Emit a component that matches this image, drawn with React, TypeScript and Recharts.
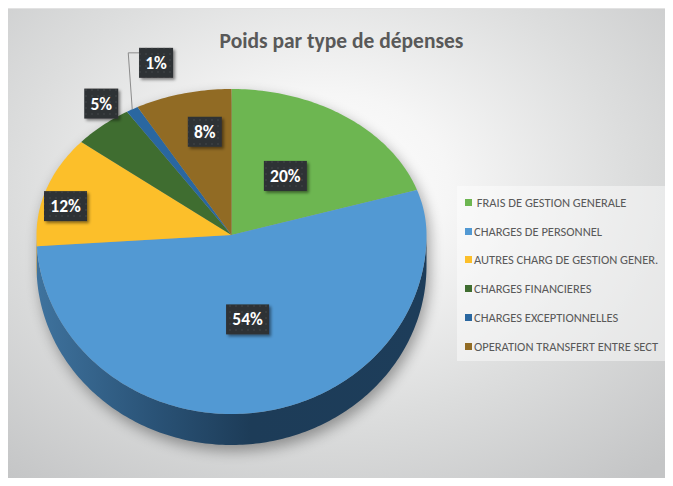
import React from 'react';
import { PieChart, Pie, Cell, Legend } from 'recharts';

const categories = [
  ' FRAIS DE GESTION GENERALE',
  'CHARGES DE PERSONNEL',
  'AUTRES CHARG DE GESTION GENER.',
  'CHARGES FINANCIERES',
  'CHARGES EXCEPTIONNELLES',
  'OPERATION TRANSFERT ENTRE SECT',
];
const shares = [20, 54, 12, 5, 1, 8];

const colors = ['#6db651', '#5299d3', '#fcbf2a', '#3f6d30', '#2a67a0', '#916b24'];
const sideColors = ['#4a7d37', 'url(#blueSide)', '#b98a1c', '#2b4b21', '#1d4870', '#654a19'];

// where each label sits, as a fraction of the radius along the slice mid angle
const labelFx = [0.47, 0.44, 0.895, 1.01, 0.76, 0.55];
const labelFy = [0.5, 0.48, 0.64, 1.2, 1.37, 0.73];

const data = categories.map((name, i) => ({ name, value: shares[i] }));

const W = 663;
const H = 470;
const RAD = Math.PI / 180;
// vertical squash of the tilted disc (front half looks bigger)
const TOP_RATIO = 146 / 195;
const BOT_RATIO = 179 / 195;
const DEPTH = 31;
const FONT = 'Carlito, Lato, "Open Sans", sans-serif';

const pt = (cx: number, cy: number, r: number, a: number, fx = 1, fy = 1, dy = 0) => {
  const s = Math.sin(a * RAD);
  const ry = r * (s >= 0 ? TOP_RATIO : BOT_RATIO);
  return [cx + r * fx * Math.cos(a * RAD), cy - ry * fy * s + dy];
};

const arc = (cx: number, cy: number, r: number, a1: number, a2: number, dy = 0) => {
  const n = Math.max(2, Math.ceil(Math.abs(a2 - a1)));
  const pts: number[][] = [];
  for (let i = 0; i <= n; i++) {
    const a = a1 + ((a2 - a1) * i) / n;
    pts.push(pt(cx, cy, r, a, 1, 1, dy));
  }
  return pts;
};

const toPath = (pts: number[][]) =>
  pts.map((p, i) => `${i ? 'L' : 'M'}${p[0].toFixed(2)},${p[1].toFixed(2)}`).join(' ');

const TopSector = (props: any) => {
  const { cx, cy, outerRadius, startAngle, endAngle, fill } = props;
  const d = `M${cx},${cy} ` + toPath(arc(cx, cy, outerRadius, startAngle, endAngle)).replace(/^M/, 'L') + ' Z';
  return <path d={d} fill={fill} stroke="none" />;
};

const SideSector = (props: any) => {
  const { cx, cy, outerRadius, startAngle, endAngle, fill, index } = props;
  const lo = Math.max(Math.min(startAngle, endAngle), -180);
  const hi = Math.min(Math.max(startAngle, endAngle), 0);
  let shadow = null;
  if (index === 0) {
    const front = arc(cx, cy, outerRadius, -180, 0, DEPTH);
    const back = arc(cx, cy, outerRadius, 0, 180, 0);
    shadow = (
      <path
        d={toPath([...front, ...back]) + ' Z'}
        fill="#000"
        opacity={0.35}
        filter="url(#pieShadow)"
      />
    );
  }
  if (lo >= hi) return <g>{shadow}</g>;
  const top = arc(cx, cy, outerRadius, lo, hi, 0);
  const bottom = arc(cx, cy, outerRadius, hi, lo, DEPTH);
  return (
    <g>
      {shadow}
      <path d={toPath([...top, ...bottom]) + ' Z'} fill={fill} stroke="none" />
    </g>
  );
};

const renderLabel = (p: any) => {
  const { cx, cy, outerRadius, midAngle, percent, index } = p;
  const [x, y] = pt(cx, cy, outerRadius, midAngle, labelFx[index], labelFy[index]);
  const text = `${Math.round(percent * 100)}%`;
  const w = text.length > 2 ? 43 : 34;
  const h = 30;
  let leader = null;
  if (percent < 0.02) {
    const [ex, ey] = pt(cx, cy, outerRadius, midAngle);
    leader = (
      <polyline
        points={`${ex},${ey} ${ex - 4},${y - 10} ${x - w / 2},${y - 10}`}
        fill="none"
        stroke="#8c8c8c"
        strokeWidth={1}
      />
    );
  }
  return (
    <g key={`lbl-${index}`}>
      {leader}
      <rect x={x - w / 2} y={y - h / 2} width={w} height={h} fill="#2e3034" filter="url(#boxShadow)" />
      <rect x={x - w / 2} y={y - h / 2} width={w} height={h} fill="url(#dots)" />
      <text
        x={x}
        y={y}
        textAnchor="middle"
        dominantBaseline="central"
        fill="#ffffff"
        fontFamily={FONT}
        fontWeight="bold"
        fontSize={17.5}
      >
        {text}
      </text>
    </g>
  );
};

const renderLegend = () => (
  <div
    style={{
      width: 209,
      height: 175,
      boxSizing: 'border-box',
      paddingTop: 2,
      paddingLeft: 8,
      background: 'rgba(255,255,255,0.45)',
      fontFamily: FONT,
      fontSize: 12.5,
      color: '#595959',
    }}
  >
    {categories.map((c, i) => (
      <div key={c} style={{ display: 'flex', alignItems: 'center', height: 28.8, whiteSpace: 'pre' }}>
        <span style={{ display: 'inline-block', width: 7, height: 7, background: colors[i], marginRight: 2 }} />
        <span>{c}</span>
      </div>
    ))}
  </div>
);

const App: React.FC = () => {
  return (
    <div
      style={{
        position: 'relative',
        marginLeft: -3,
        width: W,
        height: H,
        background:
          'radial-gradient(ellipse 75% 80% at 48% 38%, #ffffff 0%, #f6f6f6 25%, #dcdddd 62%, #c4c5c6 100%)',
        borderTop: '1px solid #e2e2e2',
        boxSizing: 'border-box',
      }}
    >
      <svg width={0} height={0} style={{ position: 'absolute' }}>
        <defs>
          <linearGradient id="blueSide" gradientUnits="userSpaceOnUse" x1={31} y1={0} x2={421} y2={0}>
            <stop offset="0%" stopColor="#3f739e" />
            <stop offset="30%" stopColor="#2a5377" />
            <stop offset="55%" stopColor="#1d3c58" />
            <stop offset="100%" stopColor="#1d3d5a" />
          </linearGradient>
          <filter id="pieShadow" x="-20%" y="-20%" width="140%" height="140%">
            <feOffset dx="3" dy="6" />
            <feGaussianBlur stdDeviation="7" />
          </filter>
          <filter id="boxShadow" x="-30%" y="-30%" width="160%" height="160%">
            <feDropShadow dx="2" dy="2" stdDeviation="1.5" floodColor="#000" floodOpacity="0.45" />
          </filter>
          <pattern id="dots" width="6" height="6" patternUnits="userSpaceOnUse">
            <circle cx="3" cy="3" r="0.7" fill="#4a4c50" />
          </pattern>
        </defs>
      </svg>
      <div
        style={{
          position: 'absolute',
          left: 0,
          top: 18,
          width: 673,
          textAlign: 'center',
          fontFamily: FONT,
          fontWeight: 'bold',
          fontSize: 21.5,
          lineHeight: '28px',
          color: '#595959',
          zIndex: 2,
        }}
      >
        Poids par type de dépenses
      </div>
      <PieChart width={W} height={H} margin={{ top: 0, right: 0, bottom: 0, left: 0 }}>
        <Pie
          data={data}
          dataKey="value"
          nameKey="name"
          cx={226.5}
          cy={226}
          outerRadius={195}
          startAngle={90}
          endAngle={-270}
          stroke="none"
          legendType="none"
          isAnimationActive={false}
          shape={SideSector}
          inactiveShape={SideSector}
          activeShape={SideSector}
        >
          {data.map((d, i) => (
            <Cell key={d.name} fill={sideColors[i]} />
          ))}
        </Pie>
        <Pie
          data={data}
          dataKey="value"
          nameKey="name"
          cx={226.5}
          cy={226}
          outerRadius={195}
          startAngle={90}
          endAngle={-270}
          stroke="none"
          isAnimationActive={false}
          shape={TopSector}
          inactiveShape={TopSector}
          activeShape={TopSector}
          label={renderLabel}
          labelLine={false}
        >
          {data.map((d, i) => (
            <Cell key={d.name} fill={colors[i]} />
          ))}
        </Pie>
        <Legend
          layout="vertical"
          align="right"
          verticalAlign="top"
          content={renderLegend}
          wrapperStyle={{ left: 452, top: 177, width: 209, height: 175 }}
        />
      </PieChart>
    </div>
  );
};

export default App;
